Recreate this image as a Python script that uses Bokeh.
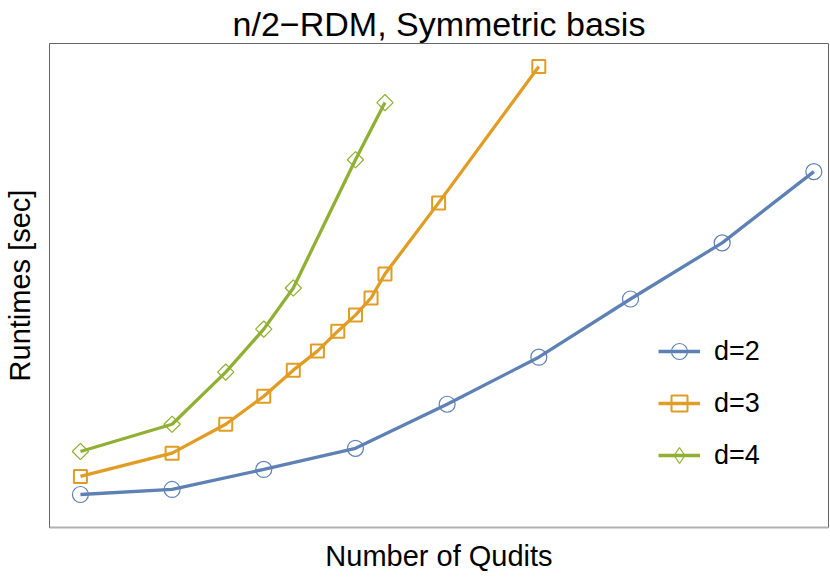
import numpy as np
from bokeh.plotting import figure
from bokeh.models import Legend, LegendItem, FixedTicker, Range1d
from bokeh.embed import file_html
from bokeh.resources import INLINE

# Number of qudits (log-scaled axis) and runtimes [sec] (log-scaled axis)
n_d2 = [2, 4, 8, 16, 32, 64, 128, 256, 512]
t_d2 = [0.0122, 0.0141, 0.0251, 0.046, 0.163, 0.63, 3.35, 16.8, 130]
n_d3 = [2, 4, 6, 8, 10, 12, 14, 16, 18, 20, 30, 64]
t_d3 = [0.0205, 0.040, 0.0917, 0.205, 0.434, 0.75, 1.33, 2.11, 3.45, 6.88, 53, 2660]
n_d4 = [2, 4, 6, 8, 10, 16, 20]
t_d4 = [0.042, 0.0917, 0.41, 1.41, 4.6, 183, 944]

labels = ["d=2", "d=3", "d=4"]
colors = ["#5e81b5", "#e19c24", "#8fb032"]
FONT = "Liberation Sans"

p = figure(width=830, height=577, x_axis_type="log", y_axis_type="log",
           x_range=(1.583, 572), y_range=(0.00473, 5157),
           output_backend="svg", toolbar_location=None,
           min_border_left=48, min_border_right=2, min_border_top=43, min_border_bottom=50)
# range used only to host a legend-swatch renderer (its points fall outside the view)
p.extra_y_ranges = {"legend_only": Range1d(start=1e6, end=1e7)}

p.title.text = "n/2\u2212RDM, Symmetric basis"
p.title.text_font = FONT
p.title.text_font_size = "34px"
p.title.text_font_style = "normal"
p.title.align = "center"
p.title.text_color = "black"
p.title.standoff = 2

p.grid.visible = False
p.outline_line_color = "#666666"
p.outline_line_width = 1
p.background_fill_color = "white"
p.border_fill_color = "white"

for ax in (p.xaxis[0], p.yaxis[0]):
    ax.ticker = FixedTicker(ticks=[], minor_ticks=[])
    ax.major_tick_line_color = None
    ax.minor_tick_line_color = None
    ax.major_label_text_font_size = "0px"
    ax.axis_label_text_font = FONT
    ax.axis_label_text_font_size = "29px"
    ax.axis_label_text_font_style = "normal"
    ax.axis_label_text_color = "black"

p.xaxis.axis_line_color = "#b0b0b0"
p.xaxis.axis_line_width = 2
p.yaxis.axis_line_color = "#666666"
p.yaxis.axis_line_width = 1

p.xaxis.axis_label = "Number of Qudits"
p.yaxis.axis_label = "Runtimes [sec]"
p.xaxis.axis_label_standoff = 12
p.yaxis.axis_label_standoff = 14

LW = 3.3
items = []
l1 = p.line(n_d2, t_d2, line_color=colors[0], line_width=LW)
m1 = p.scatter(n_d2, t_d2, marker="circle", size=16, fill_color=None,
               line_color=colors[0], line_width=1.2)
items.append(LegendItem(label=labels[0], renderers=[l1, m1]))

l2 = p.line(n_d3, t_d3, line_color=colors[1], line_width=LW)
m2 = p.scatter(n_d3, t_d3, marker="square", size=13, fill_color=None,
               line_color=colors[1], line_width=2)
items.append(LegendItem(label=labels[1], renderers=[l2, m2]))

l3 = p.line(n_d4, t_d4, line_color=colors[2], line_width=LW)
m3 = p.scatter(n_d4, t_d4, marker="square", angle=np.pi / 4, size=11.5, fill_color=None,
               line_color=colors[2], line_width=1.2)
# legend swatch: legend markers are drawn unrotated, so use a diamond here
m3_leg = p.scatter(n_d4, t_d4, marker="diamond", size=17, fill_color=None,
                   line_color=colors[2], line_width=1.2, y_range_name="legend_only")
items.append(LegendItem(label=labels[2], renderers=[l3, m3_leg]))

legend = Legend(items=items, location=(609, 52), orientation="vertical",
                glyph_width=42, glyph_height=40, label_standoff=14, spacing=12,
                padding=0, margin=0, border_line_color=None, background_fill_alpha=0,
                label_text_font=FONT, label_text_font_size="27px", label_text_color="black",
                label_text_baseline="middle")
p.add_layout(legend, "center")

open("out.html", "w").write(file_html(p, INLINE))
